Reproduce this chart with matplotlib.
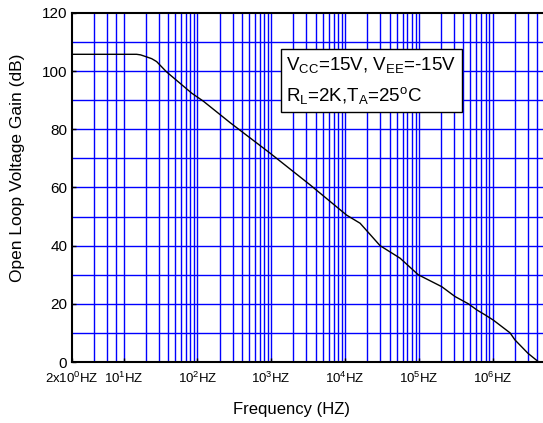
import matplotlib
matplotlib.use("Agg")
import matplotlib.pyplot as plt
import numpy as np

plt.rcParams['font.family'] = ['Liberation Sans', 'DejaVu Sans']
plt.rcParams['mathtext.fontset'] = 'custom'
plt.rcParams['mathtext.rm'] = 'Liberation Sans'
plt.rcParams['mathtext.it'] = 'Liberation Sans'

# open loop gain curve
freq = [2, 15, 17, 20, 24, 28, 38, 84, 120, 277, 964, 3360, 10500, 16000,
        29800, 55600, 98000, 204000, 309000, 469000, 610000, 789000, 1020000,
        1720000, 2000000, 3000000, 4200000]
gain = [105.8, 105.8, 105.6, 105.0, 104.3, 103.3, 99.8, 92.4, 89.7, 82.3,
        71.8, 60.9, 50.5, 47.7, 40.0, 35.7, 30.0, 25.9, 22.5, 20.0, 17.9,
        16.2, 14.4, 10.0, 7.6, 3.0, 0.0]

xtick_pos = [2, 1e1, 1e2, 1e3, 1e4, 1e5, 1e6]
xtick_lbl = [r'2x10$^{0}$HZ', r'10$^{1}$HZ', r'10$^{2}$HZ', r'10$^{3}$HZ',
             r'10$^{4}$HZ', r'10$^{5}$HZ', r'10$^{6}$HZ']
ytick_pos = [0, 20, 40, 60, 80, 100, 120]

fig = plt.figure(figsize=(5.43, 4.23), dpi=100)
ax = fig.add_axes([72/543, 1 - 362/423, 1 - 72/543, 349/423])

ax.set_xscale('log')
ax.set_xlim(2, 4.8e6)
ax.set_ylim(0, 120)

# blue grid: 4,6,8 in the first decade, then 1..9 x decade; every 10 dB
grid_x = [4, 6, 8] + [m * 10.0**e for e in range(1, 7) for m in range(1, 10)]
for gx in grid_x:
    if gx < 4.8e6:
        ax.axvline(gx, color='#0000ff', lw=1.0, zorder=1)
for gy in range(10, 120, 10):
    ax.axhline(gy, color='#0000ff', lw=1.0, zorder=1)

ax.plot(freq, gain, color='black', lw=1.0, zorder=3)

ax.set_xticks(xtick_pos)
ax.set_xticklabels(xtick_lbl, fontsize=9.5)
ax.set_xticks([], minor=True)
ax.set_yticks(ytick_pos)
ax.set_yticklabels([str(v) for v in ytick_pos], fontsize=11)
ax.tick_params(direction='in', length=3, width=1)
ax.tick_params(axis='x', pad=6)

for side in ['left', 'bottom', 'top']:
    ax.spines[side].set_color('black')
    ax.spines[side].set_linewidth(1.5)
ax.spines['right'].set_visible(False)

ax.set_xlabel('Frequency (HZ)', fontsize=12)
ax.xaxis.set_label_coords(0.465, -0.115)
ax.set_ylabel('Open Loop Voltage Gain (dB)', fontsize=12.5)
ax.yaxis.set_label_coords(-0.1, 0.555)

ax.text(0.455, 0.88, 'V$_{\\rm CC}$=15V, V$_{\\rm EE}$=-15V\nR$_{\\rm L}$=2K,T$_{\\rm A}$=25$^{\\rm o}$C',
        transform=ax.transAxes, fontsize=13.5, va='top', ha='left',
        linespacing=1.65, zorder=5,
        bbox=dict(boxstyle='square,pad=0.3', fc='white', ec='black', lw=1))

fig.savefig('out.png', dpi=100)
